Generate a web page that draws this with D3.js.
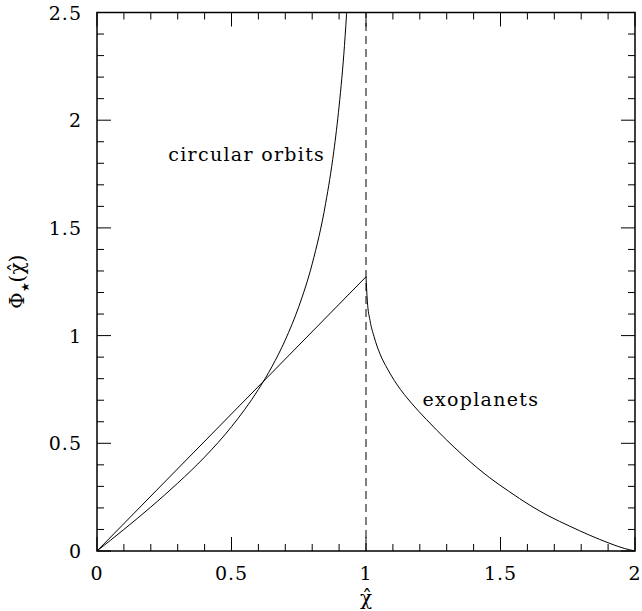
<!DOCTYPE html>
<html>
<head>
<meta charset="utf-8">
<script src="https://cdn.jsdelivr.net/npm/d3@7"></script>
<style>
  body { margin: 0; background: #fff; }
  text { font-family: "DejaVu Serif", serif; fill: #000; }
</style>
</head>
<body>
<div id="chart"></div>
<script>
// values
const majorTicksX = [0, 0.5, 1, 1.5, 2]
const majorTicksY = [0, 0.5, 1, 1.5, 2, 2.5]
const tickLabelsX = ['0', '0.5', '1', '1.5', '2']
const tickLabelsY = ['0', '0.5', '1', '1.5', '2', '2.5']

// straight line (all orbits below chi = 1)
const lineX = [0, 1]
const lineY = [0, 1.273]

// circular orbits curve
const circX = [0, 0.1, 0.2, 0.3, 0.4, 0.5, 0.6, 0.65, 0.7, 0.75, 0.8, 0.85, 0.88, 0.9, 0.92, 0.94]
const circY = [0, 0.10, 0.204, 0.315, 0.436, 0.577, 0.75, 0.855, 0.98, 1.134, 1.333, 1.614, 1.853, 2.065, 2.347, 2.76]

// exoplanets curve (chi > 1)
const exoX = [1, 1.005, 1.015, 1.03, 1.052, 1.08, 1.114, 1.17, 1.225, 1.3, 1.41, 1.46, 1.53, 1.61, 1.68, 1.758, 1.83, 1.907, 1.96, 2]
const exoY = [1.273, 1.16, 1.07, 0.995, 0.915, 0.845, 0.775, 0.685, 0.61, 0.515, 0.39, 0.34, 0.278, 0.212, 0.162, 0.115, 0.074, 0.035, 0.012, 0]

const labels = [
  { text: 'circular orbits', x: 0.265, y: 1.81 },
  { text: 'exoplanets', x: 1.21, y: 0.675 },
]

const width = 642
const height = 611
const margin = { top: 12.5, right: 7, bottom: 60, left: 97 }

const svg = d3.select('#chart').append('svg')
  .attr('width', width)
  .attr('height', height)

const x = d3.scaleLinear()
  .domain([0, 2])
  .range([margin.left, width - margin.right])

const y = d3.scaleLinear()
  .domain([0, 2.5])
  .range([height - margin.bottom, margin.top])

svg.append('clipPath')
  .attr('id', 'clip')
  .append('rect')
  .attr('x', x(0))
  .attr('y', y(2.5))
  .attr('width', x(2) - x(0))
  .attr('height', y(0) - y(2.5))

const minorX = d3.range(0, 2.0001, 0.1).map(v => Math.round(v * 10) / 10)
const minorY = d3.range(0, 2.5001, 0.1).map(v => Math.round(v * 10) / 10)
const isMajor = v => Math.abs(v * 2 - Math.round(v * 2)) < 1e-6

// ticks on all four sides, pointing inward
const ticks = svg.append('g')
  .attr('stroke', '#000')
  .attr('stroke-width', 1)
minorX.forEach(v => {
  const len = isMajor(v) ? 14 : 7
  ticks.append('line').attr('x1', x(v)).attr('x2', x(v)).attr('y1', y(0)).attr('y2', y(0) - len)
  ticks.append('line').attr('x1', x(v)).attr('x2', x(v)).attr('y1', y(2.5)).attr('y2', y(2.5) + len)
})
minorY.forEach(v => {
  const len = isMajor(v) ? 14 : 7
  ticks.append('line').attr('x1', x(0)).attr('x2', x(0) + len).attr('y1', y(v)).attr('y2', y(v))
  ticks.append('line').attr('x1', x(2)).attr('x2', x(2) - len).attr('y1', y(v)).attr('y2', y(v))
})

// frame
svg.append('rect')
  .attr('x', x(0))
  .attr('y', y(2.5))
  .attr('width', x(2) - x(0))
  .attr('height', y(0) - y(2.5))
  .attr('fill', 'none')
  .attr('stroke', '#000')
  .attr('stroke-width', 1.5)

// tick labels
svg.append('g').selectAll('text')
  .data(majorTicksX)
  .enter().append('text')
  .attr('x', d => x(d))
  .attr('y', y(0) + 29)
  .attr('text-anchor', 'middle')
  .attr('font-size', 19)
  .attr('letter-spacing', 1)
  .text((d, i) => tickLabelsX[i])

svg.append('g').selectAll('text')
  .data(majorTicksY)
  .enter().append('text')
  .attr('x', x(0) - 15)
  .attr('y', d => y(d) + 7)
  .attr('text-anchor', 'end')
  .attr('font-size', 19)
  .attr('letter-spacing', 1)
  .text((d, i) => tickLabelsY[i])

// axis titles
svg.append('text')
  .attr('x', x(1))
  .attr('y', 605)
  .attr('text-anchor', 'middle')
  .attr('font-size', 20)
  .text('\u03c7\u0302')

const yTitle = svg.append('text')
  .attr('transform', `translate(24, ${(y(0) + y(2.5)) / 2}) rotate(-90)`)
  .attr('text-anchor', 'middle')
  .attr('font-size', 20)
yTitle.append('tspan').text('\u03a6')
yTitle.append('tspan').attr('font-size', 11).attr('dy', 5).text('\u2605')
yTitle.append('tspan').attr('dy', -5).text('(\u03c7\u0302)')

// curves
const plot = svg.append('g').attr('clip-path', 'url(#clip)')

const lineGen = d3.line()
  .x(d => x(d[0]))
  .y(d => y(d[1]))
  .curve(d3.curveMonotoneX)

plot.append('path')
  .datum(lineX.map((v, i) => [v, lineY[i]]))
  .attr('d', lineGen)
  .attr('fill', 'none')
  .attr('stroke', '#000')
  .attr('stroke-width', 1)

plot.append('path')
  .datum(circX.map((v, i) => [v, circY[i]]))
  .attr('d', lineGen)
  .attr('fill', 'none')
  .attr('stroke', '#000')
  .attr('stroke-width', 1)

plot.append('path')
  .datum(exoX.map((v, i) => [v, exoY[i]]))
  .attr('d', lineGen)
  .attr('fill', 'none')
  .attr('stroke', '#000')
  .attr('stroke-width', 1)

// dashed line at chi = 1
plot.append('line')
  .attr('x1', x(1)).attr('x2', x(1))
  .attr('y1', y(0)).attr('y2', y(2.5))
  .attr('stroke', '#000')
  .attr('stroke-width', 1)
  .attr('stroke-dasharray', '8,5')

svg.append('g').selectAll('text')
  .data(labels)
  .enter().append('text')
  .attr('x', d => x(d.x))
  .attr('y', d => y(d.y))
  .attr('font-size', 19)
  .attr('letter-spacing', 1.3)
  .text(d => d.text)
</script>
</body>
</html>
